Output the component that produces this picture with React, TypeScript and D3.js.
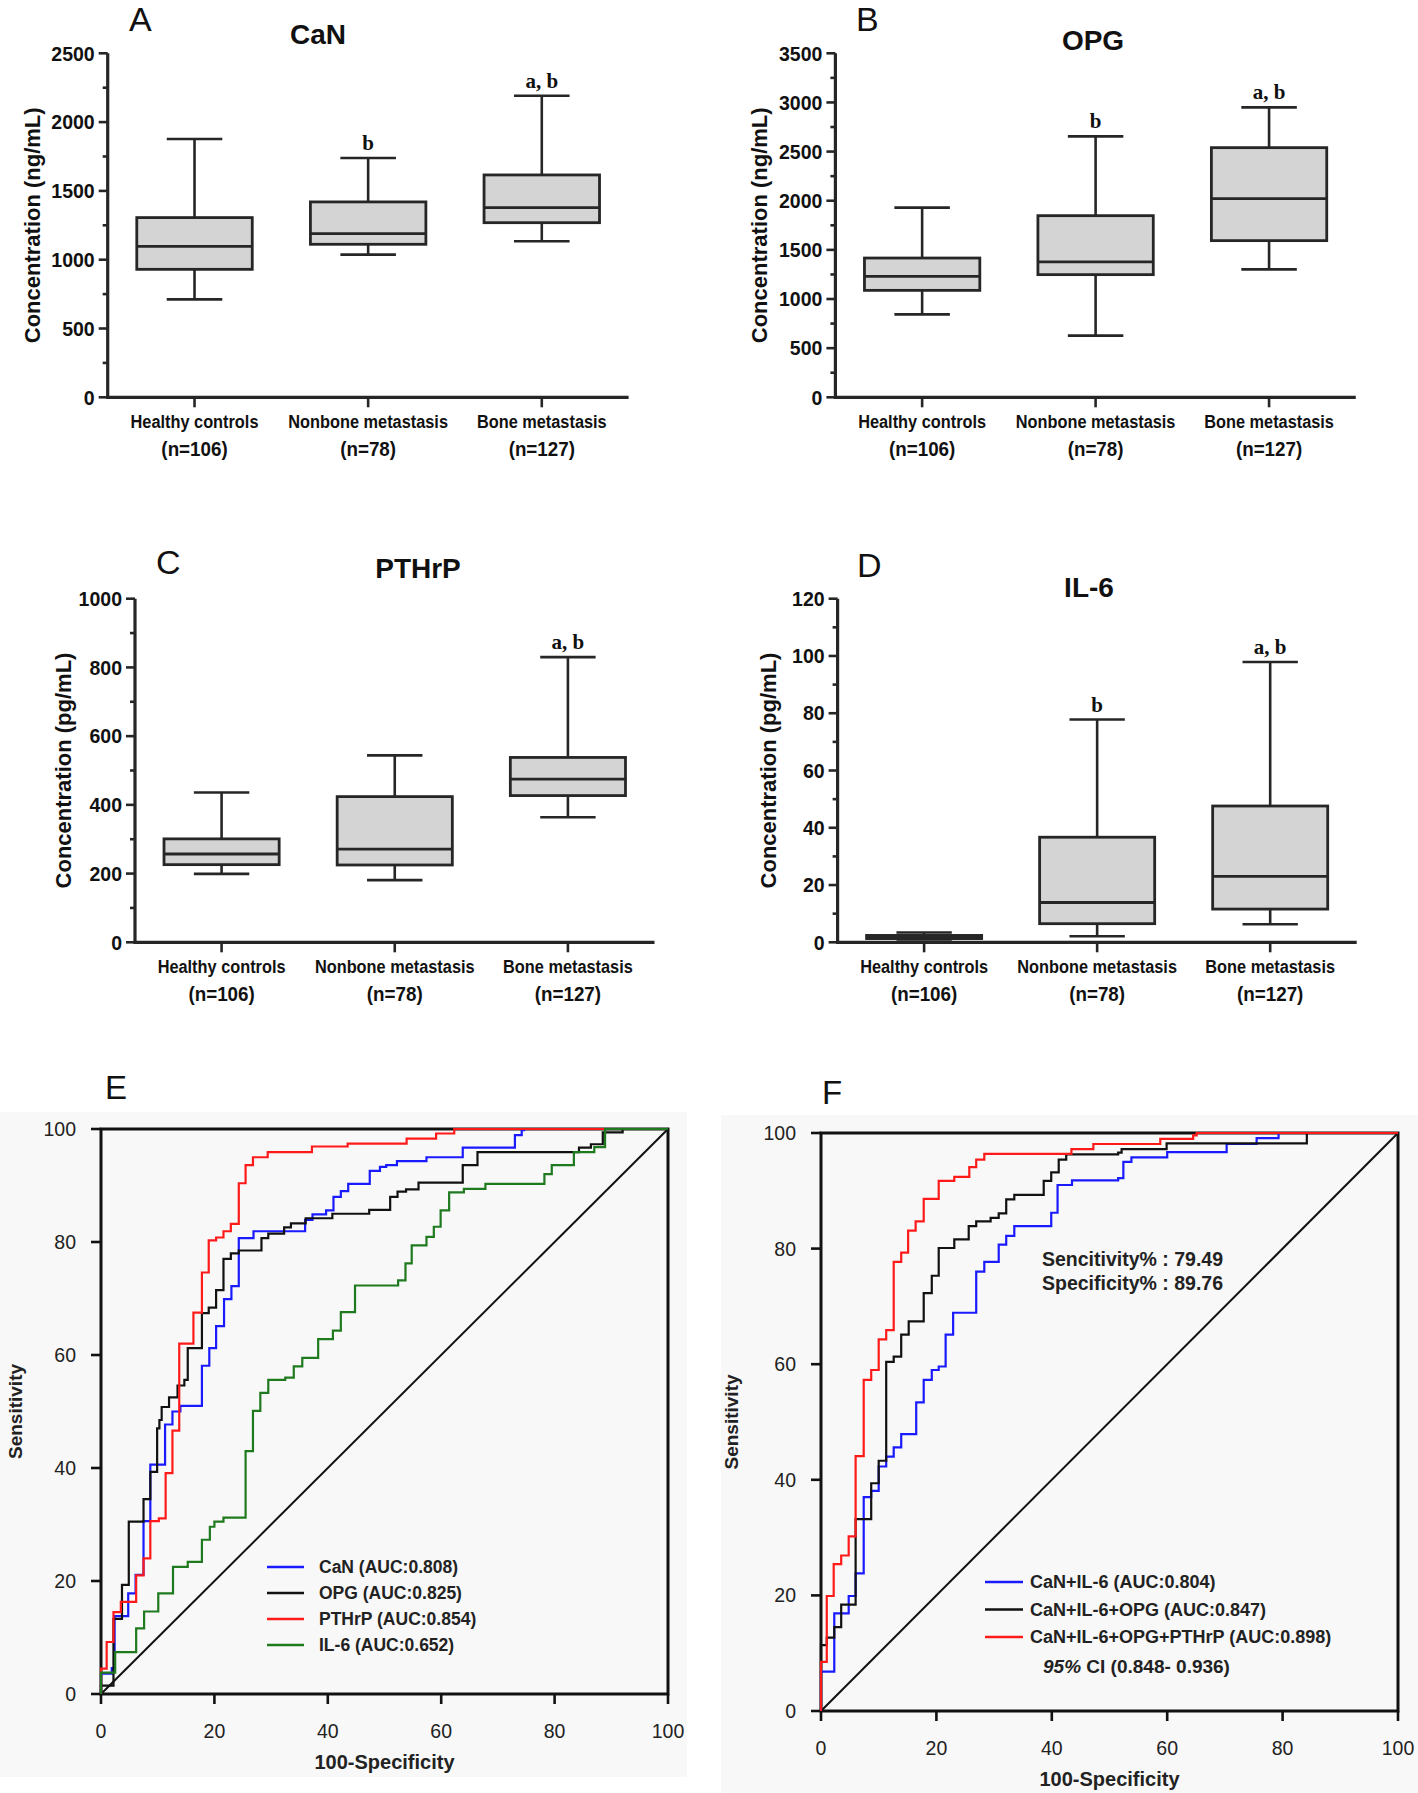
import React from 'react';
import * as d3 from 'd3';

const W = 1418;
const H = 1793;

const SANS = "'Liberation Sans', Arial, Helvetica, sans-serif";
const SERIF = "'Liberation Serif', 'Times New Roman', serif";

const groups = ['Healthy controls', 'Nonbone metastasis', 'Bone metastasis'];
const groupSizes = ['(n=106)', '(n=78)', '(n=127)'];

// [lower whisker, Q1, median, Q3, upper whisker]
const canStats = [[712, 930, 1097, 1306, 1877], [1037, 1112, 1189, 1420, 1739], [1134, 1269, 1378, 1616, 2192]];
const opgStats = [[844, 1088, 1231, 1417, 1930], [627, 1248, 1377, 1848, 2655], [1302, 1594, 2021, 2540, 2950]];
const pthrpStats = [[199, 226, 257, 301, 436], [181, 225, 271, 424, 544], [364, 427, 475, 538, 830]];
const il6Stats = [[1.0, 1.3, 1.7, 2.4, 3.4], [2.1, 6.5, 13.9, 36.7, 77.8], [6.3, 11.6, 23.0, 47.6, 97.9]];

const canMarks = ['', 'b', 'a, b'];
const opgMarks = ['', 'b', 'a, b'];
const pthrpMarks = ['', '', 'a, b'];
const il6Marks = ['', 'b', 'a, b'];

const rocTicks = [0, 20, 40, 60, 80, 100];

// ROC step points [100-specificity, sensitivity]
const rocCaN = [[0, 0], [0, 3.6], [1.9, 4.6], [2.4, 13.8], [4.8, 17.8], [6.1, 21.1], [7.5, 30.6], [8.7, 40.6], [11.3, 47.7], [12.6, 50], [14, 51], [17.8, 58.1], [19.1, 61.2], [20.3, 65.1], [21.7, 69.9], [23, 72.2], [24.3, 80.7], [26.9, 81.9], [36, 83.9], [37.3, 84.9], [39.7, 85.6], [41, 88], [42.3, 89], [43.6, 90.3], [47.4, 92.6], [49.2, 93.3], [50.3, 93.6], [52.2, 94.3], [57.4, 95], [63.8, 96.7], [73, 98.9], [74.2, 99.8], [74.6, 100], [100, 100]];
const rocOPG = [[0, 0], [0, 1.5], [2.2, 13.3], [3.7, 19.3], [4.9, 30.5], [7.5, 34.5], [8.7, 39.3], [9.9, 47], [10.3, 48.5], [10.7, 50.8], [12, 52.5], [13.5, 54.6], [14.7, 55.6], [15.3, 61.2], [17.8, 67.4], [19, 68.4], [20.3, 71.5], [21.6, 77], [22.9, 78], [24.3, 78.5], [28.3, 80.7], [29.5, 81.5], [32.3, 82.6], [33.5, 83.3], [36.1, 84.2], [40.8, 85], [47.3, 85.7], [51, 88], [52.3, 88.9], [53.8, 89.3], [56, 90.5], [63.8, 93.6], [66.4, 95.9], [84.3, 96.7], [86.4, 97.3], [88.5, 99.4], [92, 100], [100, 100]];
const rocPTHrP = [[0, 0], [0, 4.5], [1.0, 9.2], [2.2, 14.5], [3.5, 16.3], [6.2, 21], [7.5, 24], [8.7, 30.6], [10.2, 31.1], [11.4, 39.1], [12.6, 46.6], [13.8, 62], [16.3, 67.5], [17.8, 74.6], [19, 80.3], [20.3, 80.8], [21.6, 81.9], [22.9, 83.2], [24.3, 90.4], [25.5, 93.6], [26.8, 95], [29.4, 95.9], [37.2, 96.9], [43.5, 97.4], [53.9, 98.3], [59.1, 99.2], [62.3, 100], [100, 100]];
const rocIL6 = [[0, 0], [0, 3.8], [2.5, 7.4], [6.2, 11.6], [7.6, 14.6], [10.1, 17.8], [12.7, 22.5], [15.3, 23.4], [17.8, 27.3], [19.2, 29.6], [20, 30.5], [21.6, 31.2], [25.5, 43], [26.8, 50.1], [28.1, 53.3], [29.5, 55.6], [32.5, 56], [34, 58], [35.5, 59.5], [38.3, 62.8], [40.9, 64.3], [42.3, 67.6], [44.8, 72.3], [52.4, 73.2], [53.7, 76.2], [54.8, 79.4], [57.4, 80.9], [58.7, 82.7], [59.9, 85.6], [61.4, 88.8], [64, 89.4], [67.8, 90.3], [78.2, 92], [79.5, 93.6], [83.4, 95.9], [87, 96.8], [88.9, 100], [100, 100]];

const rocCaNIL6 = [[0, 0], [0, 6.8], [2.3, 16.9], [4.8, 19.9], [6, 23.8], [7.4, 37], [8.7, 38.1], [10, 42.3], [11.3, 44], [12.6, 45.6], [13.9, 47.9], [16.5, 53.4], [17.8, 57.3], [19.2, 59], [20.4, 59.6], [21.6, 65.1], [22.9, 68.9], [26.9, 76], [28.3, 77.7], [30.8, 80.7], [32.1, 82.2], [33.5, 83.9], [39.9, 86.2], [41, 91], [43.5, 91.8], [51.5, 92.2], [52.4, 95], [53.8, 95.8], [60, 96.7], [70.3, 98.1], [75.5, 99.1], [79.3, 100], [100, 100]];
const rocCaNIL6OPG = [[0, 0], [0, 11.4], [1, 12.7], [2.3, 14.5], [3.5, 18.4], [6, 33.2], [8.7, 39.4], [10, 43.3], [11.3, 60.4], [12.6, 61.3], [13.9, 65.1], [15.2, 67.4], [17.8, 72.3], [19.2, 75.3], [20.4, 80.1], [23.1, 81.6], [25.6, 83.9], [26.9, 84.7], [29.4, 85.3], [30.8, 86.1], [32.1, 88.5], [33.5, 89.3], [38.6, 91.7], [39.9, 93.2], [41.2, 95.4], [42.5, 96.3], [51.5, 96.6], [52.1, 97.2], [59.9, 98.2], [84.2, 100], [100, 100]];
const rocAll = [[0, 0], [0, 8.5], [1, 19.9], [2.2, 25.4], [3.5, 26.9], [4.8, 30.2], [6, 44.1], [7.4, 57.3], [8.7, 59], [10, 64.3], [11.3, 65.9], [12.6, 77.7], [13.9, 79.3], [15.1, 83.1], [16.4, 84.7], [17.8, 88.6], [20.4, 91.7], [23.1, 92.4], [25.7, 94.1], [26.9, 95.4], [28.3, 96.4], [43.4, 97.2], [47.2, 98.1], [58.8, 99], [64.5, 99.6], [65.1, 100], [100, 100]];

const panelE = [
  { label: 'CaN (AUC:0.808)', color: '#1a1aff', pts: rocCaN },
  { label: 'OPG (AUC:0.825)', color: '#111111', pts: rocOPG },
  { label: 'PTHrP (AUC:0.854)', color: '#ff1a1a', pts: rocPTHrP },
  { label: 'IL-6 (AUC:0.652)', color: '#1f7a1f', pts: rocIL6 },
];
const panelF = [
  { label: 'CaN+IL-6 (AUC:0.804)', color: '#1a1aff', pts: rocCaNIL6 },
  { label: 'CaN+IL-6+OPG (AUC:0.847)', color: '#111111', pts: rocCaNIL6OPG },
  { label: 'CaN+IL-6+OPG+PTHrP (AUC:0.898)', color: '#ff1a1a', pts: rocAll },
];

const INK = '#262626';

// bold text squeezed horizontally, to imitate the narrow face of the box plots
function NText({ x, y, sx = 1, size, anchor = 'middle', children }: any) {
  return (
    <text transform={`translate(${x},${y}) scale(${sx},1)`} textAnchor={anchor} dominantBaseline="central"
      fontFamily={SANS} fontWeight="bold" fontSize={size} fill="#111">{children}</text>
  );
}

function BoxPanel({ cfg, stats, marks }: any) {
  const y = d3.scaleLinear().domain([0, cfg.max]).range([cfg.yBottom, cfg.yTop]);
  const x = d3.scaleBand().domain(groups).range([cfg.x0, cfg.x1]);
  const bw = x.bandwidth();
  const boxW = bw * 0.665;
  const capW = bw * 0.32;
  const per = Math.round(cfg.major / cfg.minor);
  const nMinor = Math.round(cfg.max / cfg.minor);
  const ticks = d3.range(0, nMinor + 1).map(i => ({ v: i * cfg.minor, major: i % per === 0 }));
  const midY = (cfg.yTop + cfg.yBottom) / 2;

  return (
    <g>
      <text x={cfg.letterX} y={cfg.letterY} fontFamily={SANS} fontSize={34} fill="#111">{cfg.letter}</text>
      <text x={cfg.titleX} y={cfg.titleY} textAnchor="middle" fontFamily={SANS} fontWeight="bold" fontSize={28} fill="#111">{cfg.title}</text>
      <text transform={`translate(${cfg.ytitleX},${midY}) rotate(-90)`} textAnchor="middle" dominantBaseline="central"
        fontFamily={SANS} fontWeight="bold" fontSize={22} fill="#111">{cfg.yTitle}</text>

      {ticks.map((t, i) => (
        <line key={'t' + i} x1={cfg.x0 - (t.major ? 9 : 5)} x2={cfg.x0} y1={y(t.v)} y2={y(t.v)} stroke={INK} strokeWidth={2.6} />
      ))}
      {ticks.filter(t => t.major).map((t, i) => (
        <NText key={'l' + i} x={cfg.x0 - 13} y={y(t.v)} sx={0.93} size={21} anchor="end">{t.v}</NText>
      ))}
      <line x1={cfg.x0} x2={cfg.x0} y1={cfg.yTop} y2={cfg.yBottom + 1.6} stroke={INK} strokeWidth={3.2} />
      <line x1={cfg.x0} x2={cfg.x1} y1={cfg.yBottom} y2={cfg.yBottom} stroke={INK} strokeWidth={3.2} />

      {groups.map((g, i) => {
        const cx = (x(g) as number) + bw / 2;
        const [lo, q1, med, q3, hi] = stats[i];
        return (
          <g key={g}>
            <line x1={cx} x2={cx} y1={cfg.yBottom} y2={cfg.yBottom + 10} stroke={INK} strokeWidth={2.6} />
            <line x1={cx} x2={cx} y1={y(hi)} y2={y(q3)} stroke={INK} strokeWidth={2.6} />
            <line x1={cx} x2={cx} y1={y(q1)} y2={y(lo)} stroke={INK} strokeWidth={2.6} />
            <line x1={cx - capW / 2} x2={cx + capW / 2} y1={y(hi)} y2={y(hi)} stroke={INK} strokeWidth={2.6} />
            <line x1={cx - capW / 2} x2={cx + capW / 2} y1={y(lo)} y2={y(lo)} stroke={INK} strokeWidth={2.6} />
            <rect x={cx - boxW / 2} y={y(q3)} width={boxW} height={y(q1) - y(q3)} fill="#d4d4d4" stroke={INK} strokeWidth={2.8} />
            <line x1={cx - boxW / 2} x2={cx + boxW / 2} y1={y(med)} y2={y(med)} stroke={INK} strokeWidth={2.8} />
            {marks[i] && (
              <text x={cx} y={y(hi) - 8} textAnchor="middle" fontFamily={SERIF} fontWeight="bold" fontSize={21} fill="#111">{marks[i]}</text>
            )}
            <NText x={cx} y={cfg.yBottom + 24} sx={0.86} size={19}>{g}</NText>
            <NText x={cx} y={cfg.yBottom + 51} sx={0.94} size={20}>{groupSizes[i]}</NText>
          </g>
        );
      })}
    </g>
  );
}

function RocPanel({ cfg, series, drawOrder, children }: any) {
  const x = d3.scaleLinear().domain([0, 100]).range([cfg.x0, cfg.x1]);
  const y = d3.scaleLinear().domain([0, 100]).range([cfg.yBottom, cfg.yTop]);
  const line = d3.line<number[]>().x(d => x(d[0])).y(d => y(d[1])).curve(d3.curveStepAfter);
  const midX = (cfg.x0 + cfg.x1) / 2;
  const midY = (cfg.yTop + cfg.yBottom) / 2;

  return (
    <g>
      <rect x={cfg.bg[0]} y={cfg.bg[1]} width={cfg.bg[2]} height={cfg.bg[3]} fill="#f8f8f8" />
      <text x={cfg.letterX} y={cfg.letterY} fontFamily={SANS} fontSize={33} fill="#111">{cfg.letter}</text>

      {rocTicks.map(t => (
        <g key={t}>
          <line x1={x(t)} x2={x(t)} y1={cfg.yBottom} y2={cfg.yBottom + 10} stroke="#111" strokeWidth={2.6} />
          <text x={x(t)} y={cfg.yBottom + 37} textAnchor="middle" dominantBaseline="central"
            fontFamily={SANS} fontSize={19.5} fill="#222">{t}</text>
          <line x1={cfg.x0 - 10} x2={cfg.x0} y1={y(t)} y2={y(t)} stroke="#111" strokeWidth={2.6} />
          <text x={cfg.x0 - 25} y={y(t)} textAnchor="end" dominantBaseline="central"
            fontFamily={SANS} fontSize={19.5} fill="#222">{t}</text>
        </g>
      ))}
      <text x={midX} y={cfg.yBottom + 68} textAnchor="middle" dominantBaseline="central"
        fontFamily={SANS} fontWeight="bold" fontSize={20} fill="#222">100-Specificity</text>
      <text transform={`translate(${cfg.ytitleX},${midY}) rotate(-90)`} textAnchor="middle" dominantBaseline="central"
        fontFamily={SANS} fontWeight="bold" fontSize={19} fill="#222">Sensitivity</text>

      <rect x={cfg.x0} y={cfg.yTop} width={cfg.x1 - cfg.x0} height={cfg.yBottom - cfg.yTop} fill="none" stroke="#111" strokeWidth={3} />
      <line x1={x(0)} y1={y(0)} x2={x(100)} y2={y(100)} stroke="#111" strokeWidth={2} />

      {drawOrder.map((k: number) => (
        <path key={k} d={line(series[k].pts) || ''} fill="none" stroke={series[k].color} strokeWidth={2.2} />
      ))}

      {series.map((s: any, i: number) => (
        <g key={s.label}>
          <line x1={cfg.legX0} x2={cfg.legX1} y1={cfg.legY + i * cfg.legDy} y2={cfg.legY + i * cfg.legDy} stroke={s.color} strokeWidth={2.6} />
          <text x={cfg.legTextX} y={cfg.legY + i * cfg.legDy} dominantBaseline="central"
            fontFamily={SANS} fontWeight="bold" fontSize={cfg.legSize} fill="#222">{s.label}</text>
        </g>
      ))}
      {children}
    </g>
  );
}

const cfgA = { letter: 'A', title: 'CaN', yTitle: 'Concentration (ng/mL)', max: 2500, major: 500, minor: 250,
  x0: 107.7, x1: 628.6, yTop: 53.3, yBottom: 397.3, letterX: 129, letterY: 31, titleX: 318, titleY: 44, ytitleX: 32 };
const cfgB = { letter: 'B', title: 'OPG', yTitle: 'Concentration (ng/mL)', max: 3500, major: 500, minor: 250,
  x0: 835.4, x1: 1355.8, yTop: 53.3, yBottom: 397.3, letterX: 856, letterY: 31, titleX: 1093, titleY: 49.5, ytitleX: 759 };
const cfgC = { letter: 'C', title: 'PTHrP', yTitle: 'Concentration (pg/mL)', max: 1000, major: 200, minor: 100,
  x0: 135, x1: 654.5, yTop: 598.7, yBottom: 942.3, letterX: 156, letterY: 574, titleX: 418, titleY: 578, ytitleX: 63 };
const cfgD = { letter: 'D', title: 'IL-6', yTitle: 'Concentration (pg/mL)', max: 120, major: 20, minor: 10,
  x0: 837.6, x1: 1356.7, yTop: 598.7, yBottom: 942.3, letterX: 857, letterY: 577, titleX: 1089, titleY: 596.5, ytitleX: 768 };

const cfgE = { letter: 'E', x0: 101, x1: 668, yTop: 1129, yBottom: 1694, bg: [0, 1112, 687, 665], letterX: 105, letterY: 1099,
  ytitleX: 15, legX0: 267, legX1: 304, legTextX: 319, legY: 1567, legDy: 26, legSize: 17.5 };
const cfgF = { letter: 'F', x0: 821, x1: 1398, yTop: 1133, yBottom: 1711, bg: [721, 1115, 697, 678], letterX: 822, letterY: 1104,
  ytitleX: 731, legX0: 985, legX1: 1023, legTextX: 1030, legY: 1582, legDy: 27.5, legSize: 18 };

export default function App() {
  return (
    <svg width={W} height={H} viewBox={`0 0 ${W} ${H}`} style={{ position: 'absolute', left: 0, top: 0, background: '#fff' }}>
      <rect x={0} y={0} width={W} height={H} fill="#fff" />
      <BoxPanel cfg={cfgA} stats={canStats} marks={canMarks} />
      <BoxPanel cfg={cfgB} stats={opgStats} marks={opgMarks} />
      <BoxPanel cfg={cfgC} stats={pthrpStats} marks={pthrpMarks} />
      <BoxPanel cfg={cfgD} stats={il6Stats} marks={il6Marks} />
      <RocPanel cfg={cfgE} series={panelE} drawOrder={[0, 1, 2, 3]} />
      <RocPanel cfg={cfgF} series={panelF} drawOrder={[0, 1, 2]}>
        <text x={1042} y={1259} dominantBaseline="central" fontFamily={SANS} fontWeight="bold" fontSize={19.5} fill="#222">Sencitivity% : 79.49</text>
        <text x={1042} y={1283} dominantBaseline="central" fontFamily={SANS} fontWeight="bold" fontSize={19.5} fill="#222">Specificity% : 89.76</text>
        <text x={1043} y={1666} dominantBaseline="central" fontFamily={SANS} fontWeight="bold" fontSize={19} fill="#222">
          <tspan fontStyle="italic">95%</tspan> CI (0.848- 0.936)
        </text>
      </RocPanel>
    </svg>
  );
}
